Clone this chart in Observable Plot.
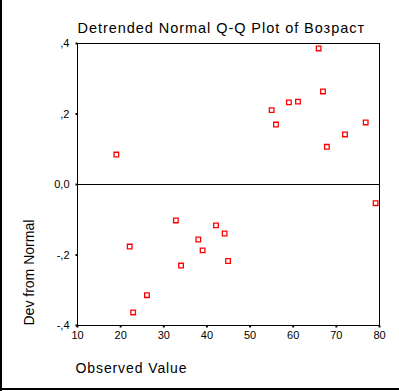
<!DOCTYPE html>
<html>
<head>
<meta charset="utf-8">
<script src="https://cdn.jsdelivr.net/npm/d3@7"></script>
<script src="https://cdn.jsdelivr.net/npm/@observablehq/plot@0.6"></script>
<style>
  html, body { margin: 0; padding: 0; background: #fff; }
  #wrap { position: relative; width: 399px; height: 391px; overflow: hidden; }
  #wrap svg { position: absolute; left: 0; top: 0; }
  .bl { position: absolute; left: 0; top: 0; width: 2px; height: 391px; background: #000; }
  .bb { position: absolute; left: 0; top: 388px; width: 399px; height: 2px; background: #000; }
</style>
</head>
<body>
<div id="wrap"></div>
<script>
const titleText = "Detrended Normal Q-Q Plot of Возраст";
const xLabel = "Observed Value";
const yLabel = "Dev from Normal";
const xTicks = [10, 20, 30, 40, 50, 60, 70, 80];
const yTicks = [-0.4, -0.2, 0, 0.2, 0.4];
const observed = [19.0, 22.1, 22.9, 26.1, 32.8, 34.0, 38.0, 39.0, 42.1, 44.1, 44.9,
                  55.0, 56.0, 59.0, 61.1, 65.9, 66.9, 67.8, 72.0, 76.8, 79.1];
const deviation = [0.085, -0.176, -0.363, -0.314, -0.102, -0.230, -0.156, -0.187, -0.116, -0.139, -0.217,
                   0.211, 0.170, 0.233, 0.235, 0.386, 0.264, 0.107, 0.142, 0.176, -0.053];

const points = observed.map((x, i) => ({x, y: deviation[i]}));
const fmtY = d => d === 0 ? "0,0" : (d < 0 ? "-" : "") + "," + Math.round(Math.abs(d) * 10);

const chart = Plot.plot({
  width: 399,
  height: 391,
  marginLeft: 77,
  marginRight: 20,
  marginTop: 43,
  marginBottom: 66,
  style: {fontFamily: "Arial, 'Liberation Sans', sans-serif", background: "transparent", color: "#000"},
  x: {domain: [10, 80]},
  y: {domain: [-0.4, 0.4]},
  marks: [
    Plot.frame({stroke: "#000", strokeWidth: 1}),
    Plot.ruleY([0], {stroke: "#000", strokeWidth: 1}),
    Plot.axisX({ticks: xTicks, tickSize: 0, tickPadding: 6, fontSize: 11, tickFormat: d => String(d), label: null}),
    Plot.axisY({ticks: yTicks, tickSize: 0, tickPadding: 8, fontSize: 11, tickFormat: fmtY, label: null}),
    Plot.dot(xTicks, {x: d => d, frameAnchor: "bottom", dy: 1, symbol: "square", r: 1.1, fill: "#000", stroke: "none"}),
    Plot.dot(yTicks, {y: d => d, frameAnchor: "left", dx: -1, symbol: "square", r: 1.1, fill: "#000", stroke: "none"}),
    Plot.dot(points, {x: "x", y: "y", symbol: "square", r: 2.6, stroke: "#ff0000", strokeWidth: 1.3, fill: "none"}),
    Plot.text([titleText], {frameAnchor: "top-left", textAnchor: "start", dy: -21, dx: 0, fontSize: 14.5, text: d => d}),
    Plot.text([xLabel], {frameAnchor: "bottom-left", textAnchor: "start", dy: 47, dx: -2, fontSize: 14, text: d => d}),
    Plot.text([yLabel], {frameAnchor: "bottom-left", textAnchor: "start", rotate: -90, dx: -44, dy: 0, fontSize: 14, text: d => d})
  ]
});
d3.select(chart).selectAll("text").each(function() {
  const t = this.textContent;
  if (t === titleText) this.style.letterSpacing = "0.95px";
  if (t === xLabel) this.style.letterSpacing = "0.9px";
});
const wrap = document.getElementById("wrap");
wrap.appendChild(chart);
const bl = document.createElement("div"); bl.className = "bl"; wrap.appendChild(bl);
const bb = document.createElement("div"); bb.className = "bb"; wrap.appendChild(bb);
</script>
</body>
</html>
